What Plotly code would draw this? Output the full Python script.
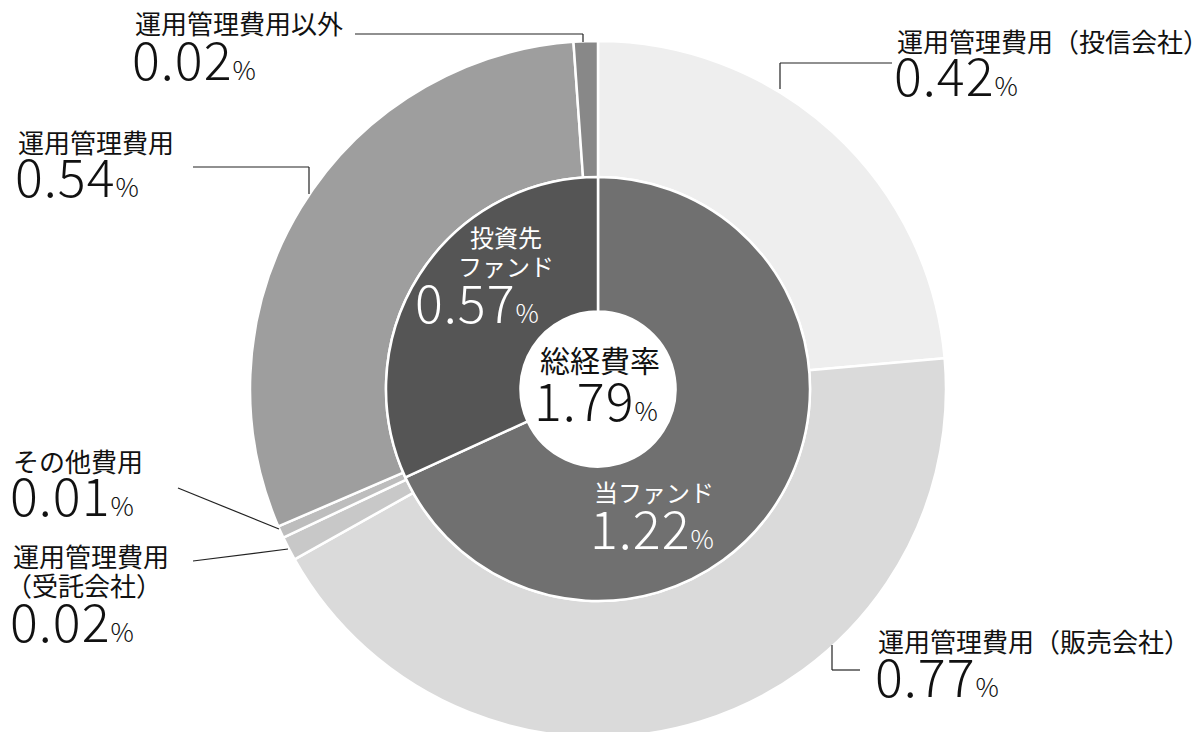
import plotly.graph_objects as go

# Data
inner_labels = ["当ファンド", "投資先ファンド"]
inner_values = [1.22, 0.57]
inner_colors = ["#707070", "#555555"]

outer_labels = ["運用管理費用（投信会社）", "運用管理費用（販売会社）", "運用管理費用（受託会社）",
                "その他費用", "運用管理費用", "運用管理費用以外"]
outer_values = [0.42, 0.77, 0.02, 0.01, 0.54, 0.02]
outer_colors = ["#eeeeee", "#dadada", "#c8c8c8", "#bdbdbd", "#9e9e9e", "#888888"]

total_label = "総経費率"
total_value = 1.79

W, H = 1200, 732
OFF = 8  # default page body margin
CX, CY = 598, 389
R_OUT, R_IN, R_HOLE = 348, 212, 77.5

def px(x):
    return (x - OFF) / W

def py(y):
    return 1 - (y - OFF) / H

FONT = "Noto Sans CJK JP, Noto Sans, sans-serif"

fig = go.Figure()
fig.add_trace(go.Pie(
    labels=outer_labels, values=outer_values, sort=False, direction="clockwise", rotation=0,
    hole=R_IN / R_OUT, textinfo="none", hoverinfo="label+value",
    marker=dict(colors=outer_colors, line=dict(color="white", width=2.5)),
    domain=dict(x=[px(CX - R_OUT), px(CX + R_OUT)], y=[py(CY + R_OUT), py(CY - R_OUT)]),
    showlegend=False,
))
fig.add_trace(go.Pie(
    labels=inner_labels, values=inner_values, sort=False, direction="clockwise", rotation=0,
    hole=R_HOLE / R_IN, textinfo="none", hoverinfo="label+value",
    marker=dict(colors=inner_colors, line=dict(color="white", width=2.5)),
    domain=dict(x=[px(CX - R_IN), px(CX + R_IN)], y=[py(CY + R_IN), py(CY - R_IN)]),
    showlegend=False,
))

def num(v, small=26):
    return (f"<span style='letter-spacing:1px'>{v:.2f}</span>"
            f"<span style='font-size:{small}px'>%</span>")

annotations = []

def ann(text, x, y, size, color="#111111", xanchor="left", weight=400):
    annotations.append(dict(text=text, x=px(x), y=py(y), xref="paper", yref="paper",
                            xanchor=xanchor, yanchor="middle", showarrow=False,
                            font=dict(family=FONT, size=size, color=color, weight=weight),
                            align="left"))

LBL = 26
NUM = 52
NW = 300
DY = -11  # digit glyph offset compensation

# Outer labels
ann(outer_labels[5], 133, 22, LBL)
ann(num(outer_values[5]), 130, 68 + DY, NUM, weight=NW)
ann(outer_labels[4], 16, 141, LBL)
ann(num(outer_values[4]), 13, 186 + DY, NUM, weight=NW)
ann(outer_labels[0], 895, 40, LBL)
ann(num(outer_values[0]), 892, 84 + DY, NUM, weight=NW)
ann(outer_labels[3], 11, 460, LBL)
ann(num(outer_values[3]), 8, 504 + DY, NUM, weight=NW)
ann("運用管理費用", 11, 555, LBL)
ann("（受託会社）", 4, 584, LBL)
ann(num(outer_values[2]), 8, 630 + DY, NUM, weight=NW)
ann(outer_labels[1], 876, 640, LBL)
ann(num(outer_values[1]), 873, 685 + DY, NUM, weight=NW)

# Inner labels
ann("投資先", 506, 236, 24, color="white", xanchor="center")
ann("ファンド", 506, 265, 24, color="white", xanchor="center")
ann(num(inner_values[1]), 413, 311 + DY, NUM, color="white", weight=NW)
ann(inner_labels[0], 592, 492, 24, color="white")
ann(num(inner_values[0]), 588, 537 + DY, NUM, color="white", weight=NW)

# Center
ann(total_label, 600, 359, 30, xanchor="center")
ann(num(total_value), 532, 409 + DY, NUM, weight=NW)

# Leader lines
shapes = []

def seg(x0, y0, x1, y1):
    shapes.append(dict(type="line", xref="paper", yref="paper",
                       x0=px(x0), y0=py(y0), x1=px(x1), y1=py(y1),
                       line=dict(color="#222222", width=1.2)))

seg(355, 34, 583, 34); seg(583, 34, 583, 42)
seg(193, 167, 309, 167); seg(309, 167, 309, 194)
seg(780, 63, 892, 63); seg(780, 63, 780, 89)
seg(832, 645, 832, 670); seg(832, 670, 860, 670)
seg(178, 488, 279, 529)
seg(193, 561, 288, 549)

fig.update_layout(width=W, height=H, margin=dict(l=0, r=0, t=0, b=0),
                  paper_bgcolor="white", plot_bgcolor="white",
                  annotations=annotations, shapes=shapes)

fig.write_html("out.html")
